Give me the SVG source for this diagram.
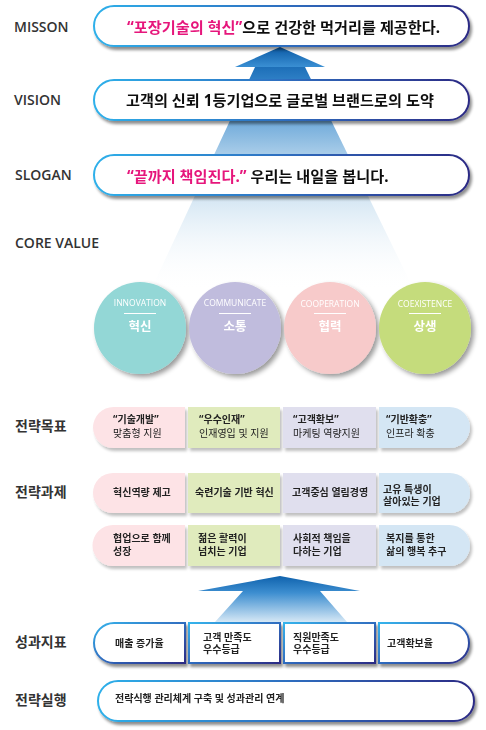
<svg xmlns="http://www.w3.org/2000/svg" width="486" height="730" viewBox="0 0 486 730">
<defs>
<style>
.lbl{font-family:"Open Sans","Noto Sans CJK KR",sans-serif;font-weight:600;font-size:14px;fill:#333}
.klbl{font-family:"Noto Sans CJK KR",sans-serif;font-weight:700;font-size:14px;fill:#333}
.ptxt{font-family:"Noto Sans","Noto Sans CJK KR",sans-serif;font-weight:700;font-size:15.2px;fill:#111}
.pink{fill:#e6177b}
.pill{fill:#fff;stroke:url(#bord);stroke-width:2}
.seg{fill:#fff;stroke:url(#bord2);stroke-width:2}
.t{font-family:"Noto Sans","Noto Sans CJK KR",sans-serif;font-size:10px;fill:#222}
.b{font-weight:700}
.cen{font-family:"Open Sans",sans-serif;font-size:8.5px;fill:#fff;text-anchor:middle}
.cko{font-family:"Noto Sans CJK KR",sans-serif;font-size:12.5px;font-weight:700;fill:#fff;text-anchor:middle}
.cl{stroke:#fff;stroke-width:1}
</style>
<linearGradient id="bord" x1="0" y1="0" x2="1" y2="0">
<stop offset="0" stop-color="#2fb0ea"/>
<stop offset="0.5" stop-color="#2f6fc0"/>
<stop offset="1" stop-color="#2c2a84"/>
</linearGradient>
<linearGradient id="bord2" x1="0" y1="0" x2="1" y2="1">
<stop offset="0" stop-color="#36b4ec"/>
<stop offset="0.5" stop-color="#2f6cbf"/>
<stop offset="1" stop-color="#2c2a84"/>
</linearGradient>
<linearGradient id="beam" gradientUnits="userSpaceOnUse" x1="0" y1="67" x2="0" y2="292">
<stop offset="0" stop-color="#1d6fb8"/>
<stop offset="0.06" stop-color="#2f80c6"/>
<stop offset="0.25" stop-color="#74addb"/>
<stop offset="0.38" stop-color="#a6cbe8"/>
<stop offset="0.58" stop-color="#d4e6f3"/>
<stop offset="1" stop-color="#ffffff" stop-opacity="0"/>
</linearGradient>
<linearGradient id="head" x1="0" y1="0" x2="0" y2="1">
<stop offset="0" stop-color="#0b5aa5"/>
<stop offset="1" stop-color="#3a8fd3"/>
</linearGradient>
<linearGradient id="arrow2" gradientUnits="userSpaceOnUse" x1="0" y1="576" x2="0" y2="624">
<stop offset="0" stop-color="#0f62ad"/>
<stop offset="0.35" stop-color="#3d8ed0"/>
<stop offset="1" stop-color="#e0eef8"/>
</linearGradient>
<filter id="sh" x="-10%" y="-30%" width="120%" height="170%">
<feGaussianBlur in="SourceAlpha" stdDeviation="1.5"/>
<feOffset dx="2" dy="3" result="o"/>
<feComponentTransfer><feFuncA type="linear" slope="0.45"/></feComponentTransfer>
<feMerge><feMergeNode/><feMergeNode in="SourceGraphic"/></feMerge>
</filter>
<filter id="csh" x="-20%" y="-20%" width="150%" height="150%">
<feGaussianBlur in="SourceAlpha" stdDeviation="2.5"/>
<feOffset dx="3" dy="3" result="o"/>
<feComponentTransfer><feFuncA type="linear" slope="0.4"/></feComponentTransfer>
<feMerge><feMergeNode/><feMergeNode in="SourceGraphic"/></feMerge>
</filter>
<filter id="ssh" x="-10%" y="-20%" width="120%" height="150%">
<feGaussianBlur in="SourceAlpha" stdDeviation="1.5"/>
<feOffset dx="1.5" dy="2.5" result="o"/>
<feComponentTransfer><feFuncA type="linear" slope="0.25"/></feComponentTransfer>
<feMerge><feMergeNode/><feMergeNode in="SourceGraphic"/></feMerge>
</filter>
</defs>
<rect width="486" height="730" fill="#fff"/>

<g id="connectors">
<polygon points="255,67 305,67 415,292 150,292" fill="url(#beam)"/>
<polygon points="280,47 325,67 235,67" fill="url(#head)"/>
<polygon points="280,576 360,591 320,591 347,622 215,622 243,591 198,591" fill="url(#arrow2)"/>
</g>

<g id="labels">
<text class="lbl" x="14" y="32">MISSON</text>
<text class="lbl" x="14" y="105">VISION</text>
<text class="lbl" x="15" y="180">SLOGAN</text>
<text class="lbl" x="15" y="248">CORE VALUE</text>
<text class="klbl" x="15" y="431">전략목표</text>
<text class="klbl" x="15" y="497">전략과제</text>
<text class="klbl" x="15" y="647">성과지표</text>
<text class="klbl" x="15" y="705">전략실행</text>
</g>

<g id="mission" filter="url(#sh)">
<rect class="pill" x="94" y="6" width="375" height="40" rx="20"/>
<text class="ptxt" x="127" y="32.5"><tspan class="pink">“포장기술의 혁신”</tspan>으로 건강한 먹거리를 제공한다.</text>
</g>
<g id="vision" filter="url(#sh)">
<rect class="pill" x="94" y="80" width="375" height="40" rx="20"/>
<text class="ptxt" x="126" y="105.5">고객의 신뢰 1등기업으로 글로벌 브랜드로의 도약</text>
</g>
<g id="slogan" filter="url(#sh)">
<rect class="pill" x="94" y="155" width="375" height="40" rx="20"/>
<text class="ptxt" x="127" y="182"><tspan class="pink">“끝까지 책임진다.”</tspan> 우리는 내일을 봅니다.</text>
</g>

<g id="cv-innovation" filter="url(#csh)">
<circle cx="140" cy="328" r="46" fill="#93d7d6"/>
<text class="cen" x="140" y="306">INNOVATION</text>
<line class="cl" x1="124" y1="313.5" x2="156" y2="313.5"/>
<text class="cko" x="140" y="331">혁신</text>
</g>
<g id="cv-communicate" filter="url(#csh)">
<circle cx="235" cy="328" r="46" fill="#c0bcdd"/>
<text class="cen" x="235" y="306">COMMUNICATE</text>
<line class="cl" x1="219" y1="313.5" x2="251" y2="313.5"/>
<text class="cko" x="235" y="331">소통</text>
</g>
<g id="cv-cooperation" filter="url(#csh)">
<circle cx="330" cy="328" r="46" fill="#f7caca"/>
<text class="cen" x="330" y="307">COOPERATION</text>
<line class="cl" x1="314" y1="313.5" x2="346" y2="313.5"/>
<text class="cko" x="330" y="331">협력</text>
</g>
<g id="cv-coexistence" filter="url(#csh)">
<circle cx="425" cy="328" r="46" fill="#c5dc7b"/>
<text class="cen" x="425" y="307">COEXISTENCE</text>
<line class="cl" x1="409" y1="313.5" x2="441" y2="313.5"/>
<text class="cko" x="425" y="331">상생</text>
</g>

<g id="goal-1" filter="url(#ssh)">
<path d="M113.5,407 H185 V448 H113.5 A20.5,20.5 0 0 1 113.5,407 Z" fill="#fde3e6"/>
<text class="t b pink" x="113" y="423">“기술개발”</text>
<text class="t" x="113" y="437">맞춤형 지원</text>
</g>
<g id="goal-2" filter="url(#ssh)">
<rect x="188" y="407" width="92" height="41" fill="#e0ebbd"/>
<text class="t b pink" x="199" y="423">“우수인재”</text>
<text class="t" x="199" y="437">인재영입 및 지원</text>
</g>
<g id="goal-3" filter="url(#ssh)">
<rect x="283" y="407" width="93" height="41" fill="#e0dfee"/>
<text class="t b pink" x="293" y="423">“고객확보”</text>
<text class="t" x="293" y="437">마케팅 역량지원</text>
</g>
<g id="goal-4" filter="url(#ssh)">
<path d="M379,407 H449.5 A20.5,20.5 0 0 1 449.5,448 H379 Z" fill="#d4e6f4"/>
<text class="t b pink" x="386" y="423">“기반확충”</text>
<text class="t" x="386" y="437">인프라 확충</text>
</g>

<g id="task-1" filter="url(#ssh)">
<path d="M113,473 H185 V513 H113 A20,20 0 0 1 113,473 Z" fill="#fde3e6"/>
<text class="t b" x="113" y="496">혁신역량 제고</text>
</g>
<g id="task-2" filter="url(#ssh)">
<rect x="188" y="473" width="92" height="40" fill="#e0ebbd"/>
<text class="t b" x="195" y="496">숙련기술 기반 혁신</text>
</g>
<g id="task-3" filter="url(#ssh)">
<rect x="283" y="473" width="93" height="40" fill="#e0dfee"/>
<text class="t b" x="292" y="496">고객중심 열림경영</text>
</g>
<g id="task-4" filter="url(#ssh)">
<path d="M379,473 H450 A20,20 0 0 1 450,513 H379 Z" fill="#d4e6f4"/>
<text class="t b" x="383" y="492.5">고유 특생이</text>
<text class="t b" x="383" y="505">살아있는 기업</text>
</g>
<g id="task-5" filter="url(#ssh)">
<path d="M113,525 H185 V566 H113 A20.5,20.5 0 0 1 113,525 Z" fill="#fde3e6"/>
<text class="t b" x="113" y="542">협업으로 함께</text>
<text class="t b" x="113" y="554.5">성장</text>
</g>
<g id="task-6" filter="url(#ssh)">
<rect x="188" y="525" width="92" height="41" fill="#e0ebbd"/>
<text class="t b" x="198" y="542">젊은 활력이</text>
<text class="t b" x="198" y="554.5">넘치는 기업</text>
</g>
<g id="task-7" filter="url(#ssh)">
<rect x="283" y="525" width="93" height="41" fill="#e0dfee"/>
<text class="t b" x="293" y="542">사회적 책임을</text>
<text class="t b" x="293" y="554.5">다하는 기업</text>
</g>
<g id="task-8" filter="url(#ssh)">
<path d="M379,525 H449.5 A20.5,20.5 0 0 1 449.5,566 H379 Z" fill="#d4e6f4"/>
<text class="t b" x="386" y="542">복지를 통한</text>
<text class="t b" x="386" y="554.5">삶의 행복 추구</text>
</g>

<g id="kpi-1" filter="url(#sh)">
<path class="seg" d="M114,623 H185 V663 H114 A20,20 0 0 1 114,623 Z"/>
<text class="t b" x="115" y="647">매출 증가율</text>
</g>
<g id="kpi-2" filter="url(#sh)">
<rect class="seg" x="189" y="623" width="91" height="40"/>
<text class="t b" x="203" y="640.5">고객 만족도</text>
<text class="t b" x="203" y="653">우수등급</text>
</g>
<g id="kpi-3" filter="url(#sh)">
<rect class="seg" x="284" y="623" width="91" height="40"/>
<text class="t b" x="293" y="640.5">직원만족도</text>
<text class="t b" x="293" y="653">우수등급</text>
</g>
<g id="kpi-4" filter="url(#sh)">
<path class="seg" d="M379,623 H449 A20,20 0 0 1 449,663 H379 Z"/>
<text class="t b" x="387" y="646.5">고객확보율</text>
</g>

<g id="execution" filter="url(#sh)">
<rect class="pill" x="98" y="681" width="376" height="40" rx="20"/>
<text class="t b" x="115" y="702">전략식행 관리체계 구축 및 성과관리 연계</text>
</g>
</svg>
